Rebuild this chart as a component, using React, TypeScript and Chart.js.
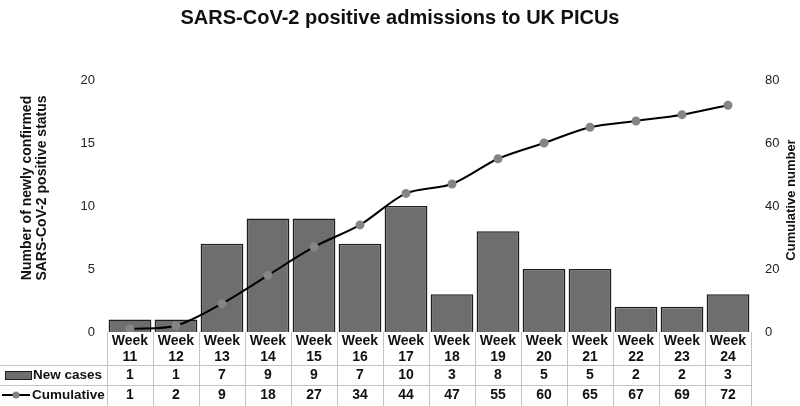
import React, { useEffect, useRef } from "react";
import { Chart, registerables } from "chart.js";

Chart.register(...registerables);

const weeks = ["Week 11", "Week 12", "Week 13", "Week 14", "Week 15", "Week 16", "Week 17", "Week 18", "Week 19", "Week 20", "Week 21", "Week 22", "Week 23", "Week 24"];
const newCases = [1, 1, 7, 9, 9, 7, 10, 3, 8, 5, 5, 2, 2, 3];
const cumulative = [1, 2, 9, 18, 27, 34, 44, 47, 55, 60, 65, 67, 69, 72];
const leftTicks = [0, 5, 10, 15, 20];
const rightTicks = [0, 20, 40, 60, 80];
const titleText = "SARS-CoV-2 positive admissions to UK PICUs";
const leftTitle = ["Number of newly confirmed", "SARS-CoV-2 positive status"];
const rightTitle = "Cumulative number";
const rowLabels = ["New cases", "Cumulative"];

const FONT = '"Liberation Sans", Arial, Helvetica, sans-serif';
const BAR_FILL = "#6e6e6e";
const BAR_BORDER = "#1e1e1e";
const POINT = "#858585";
const GRID = "#c4c4c4";

const tablePlugin = {
  id: "dataTable",
  afterDraw(chart: any) {
    const { ctx, chartArea, scales } = chart;
    const x = scales.x;
    const n = weeks.length;
    const step = x.getPixelForValue(1) - x.getPixelForValue(0);
    const left = x.getPixelForValue(0) - step / 2;
    const right = x.getPixelForValue(n - 1) + step / 2;
    const top = Math.round(chartArea.bottom);
    const r1 = top + 33;
    const r2 = r1 + 20;
    const bottom = chart.height;

    ctx.save();
    // axis titles
    ctx.fillStyle = "#111";
    ctx.font = `bold 14px ${FONT}`;
    ctx.textAlign = "center";
    ctx.textBaseline = "middle";
    const cy = (chartArea.top + chartArea.bottom) / 2 - 18;
    leftTitle.forEach((t, i) => {
      ctx.save();
      ctx.translate(27 + i * 15.5, cy);
      ctx.rotate(-Math.PI / 2);
      ctx.fillText(t, 0, 0);
      ctx.restore();
    });
    ctx.save();
    ctx.font = `bold 13px ${FONT}`;
    ctx.translate(791, (chartArea.top + chartArea.bottom) / 2 - 6);
    ctx.rotate(-Math.PI / 2);
    ctx.fillText(rightTitle, 0, 0);
    ctx.restore();

    // grid lines
    ctx.strokeStyle = GRID;
    ctx.lineWidth = 1;
    ctx.beginPath();
    for (let i = 0; i <= n; i++) {
      const xx = Math.round(left + i * step) + 0.5;
      ctx.moveTo(xx, top);
      ctx.lineTo(xx, bottom);
    }
    ctx.moveTo(0, r1 + 0.5);
    ctx.lineTo(Math.round(right) + 1, r1 + 0.5);
    ctx.moveTo(0, r2 + 0.5);
    ctx.lineTo(Math.round(right) + 1, r2 + 0.5);
    ctx.stroke();

    // header text
    ctx.fillStyle = "#111";
    ctx.font = `bold 14px ${FONT}`;
    ctx.textAlign = "center";
    ctx.textBaseline = "middle";
    weeks.forEach((w, i) => {
      const cx = x.getPixelForValue(i);
      const [a, b] = w.split(" ");
      ctx.fillText(a, cx, top + 9);
      ctx.fillText(b, cx, top + 25);
      ctx.fillText(String(newCases[i]), cx, r1 + 10.5);
      ctx.fillText(String(cumulative[i]), cx, r2 + 10);
    });

    // row labels
    ctx.textAlign = "left";
    ctx.font = `bold 13.5px ${FONT}`;
    ctx.fillText(rowLabels[0], 33, r1 + 10.5);
    ctx.fillText(rowLabels[1], 32, r2 + 10);

    // legend symbols
    ctx.fillStyle = BAR_FILL;
    ctx.strokeStyle = BAR_BORDER;
    ctx.lineWidth = 1;
    ctx.fillRect(5, r1 + 6.5, 27, 8);
    ctx.strokeRect(5.5, r1 + 6.5, 26, 8);
    ctx.strokeStyle = "#000";
    ctx.lineWidth = 2;
    ctx.beginPath();
    ctx.moveTo(2, r2 + 10);
    ctx.lineTo(30, r2 + 10);
    ctx.stroke();
    ctx.fillStyle = POINT;
    ctx.beginPath();
    ctx.arc(16, r2 + 10, 3.5, 0, Math.PI * 2);
    ctx.fill();
    ctx.restore();
  },
};

export default function App() {
  const ref = useRef<HTMLCanvasElement>(null);
  useEffect(() => {
    if (!ref.current) return;
    const chart = new Chart(ref.current, {
      type: "bar",
      data: {
        labels: weeks,
        datasets: [
          {
            type: "line",
            label: rowLabels[1],
            data: cumulative,
            yAxisID: "y1",
            borderColor: "#000",
            borderWidth: 2,
            pointBackgroundColor: POINT,
            pointBorderColor: POINT,
            pointRadius: 3.5,
            tension: 0.3,
            order: 0,
          } as any,
          {
            type: "bar",
            label: rowLabels[0],
            data: newCases,
            yAxisID: "y",
            backgroundColor: BAR_FILL,
            borderColor: BAR_BORDER,
            borderWidth: 1.5,
            barPercentage: 0.93,
            categoryPercentage: 1,
            order: 1,
          },
        ],
      },
      options: {
        responsive: false,
        animation: false,
        layout: { padding: { left: 0, right: 0, top: 0, bottom: 74 } },
        plugins: {
          legend: { display: false },
          tooltip: { enabled: false },
          title: {
            display: true,
            text: titleText,
            color: "#111",
            font: { family: FONT, size: 20, weight: "bold" },
            padding: { top: 6, bottom: 50 },
          },
        },
        scales: {
          x: { display: false, offset: true },
          y: {
            position: "left",
            min: 0,
            max: 20,
            afterBuildTicks: (s: any) => {
              s.ticks = leftTicks.map((v) => ({ value: v }));
            },
            afterFit: (s: any) => {
              s.width = 107;
            },
            grid: { display: false, drawTicks: false },
            border: { display: false },
            ticks: { padding: 12, color: "#222", font: { family: FONT, size: 13 } },
          },
          y1: {
            position: "right",
            min: 0,
            max: 80,
            afterBuildTicks: (s: any) => {
              s.ticks = rightTicks.map((v) => ({ value: v }));
            },
            afterFit: (s: any) => {
              s.width = 49;
            },
            grid: { display: false, drawTicks: false },
            border: { display: false },
            ticks: { padding: 14, color: "#222", font: { family: FONT, size: 13 } },
          },
        },
      },
      plugins: [tablePlugin],
    });
    return () => chart.destroy();
  }, []);
  return (
    <div style={{ position: "absolute", left: 0, top: 0, width: 800, height: 406, background: "#fff" }}>
      <canvas ref={ref} width={800} height={406} style={{ display: "block" }} />
    </div>
  );
}
